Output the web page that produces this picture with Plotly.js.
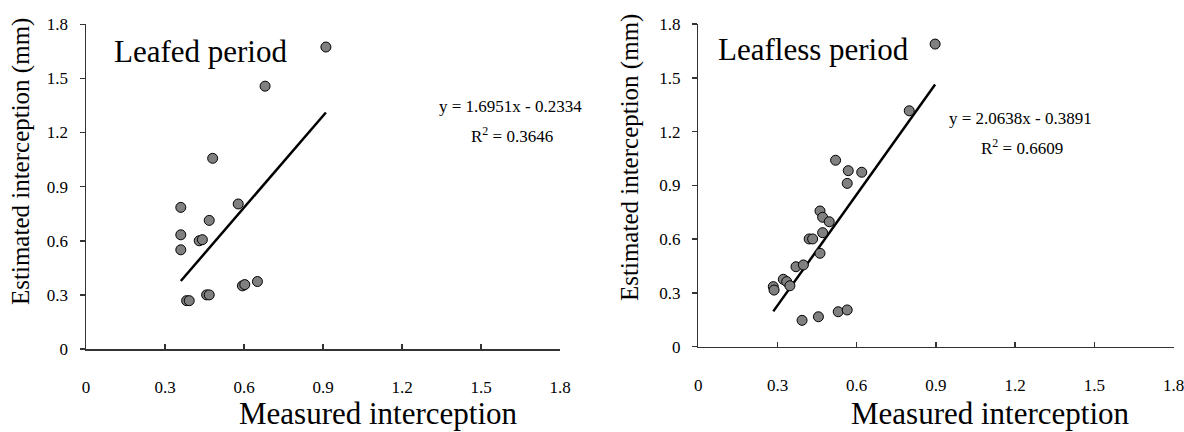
<!DOCTYPE html>
<html>
<head>
<meta charset="utf-8">
<script src="https://cdn.plot.ly/plotly-3.0.1.min.js"></script>
<style>html,body{margin:0;padding:0;background:#fff;}#chart{width:1184px;height:432px;}</style>
</head>
<body>
<div id="chart"></div>
<script>
// Leafed period (measured vs estimated interception, mm)
var leafedX = [0.360, 0.578, 0.468, 0.360, 0.430, 0.442, 0.360, 0.594, 0.603, 0.651, 0.458, 0.468, 0.382, 0.392, 0.680, 0.481, 0.911];
var leafedY = [0.785, 0.804, 0.713, 0.633, 0.600, 0.606, 0.550, 0.350, 0.357, 0.374, 0.300, 0.300, 0.268, 0.268, 1.457, 1.057, 1.674];
var leafedSlope = 1.6951, leafedIntercept = -0.2334, leafedR2 = 0.3646;

// Leafless period
var leaflessX = [0.564, 0.461, 0.471, 0.496, 0.471, 0.420, 0.433, 0.461, 0.370, 0.398, 0.322, 0.335, 0.347, 0.284, 0.287, 0.393, 0.455, 0.530, 0.564, 0.520, 0.568, 0.619, 0.897, 0.799];
var leaflessY = [0.911, 0.757, 0.722, 0.697, 0.636, 0.601, 0.601, 0.521, 0.446, 0.456, 0.376, 0.363, 0.340, 0.335, 0.316, 0.147, 0.167, 0.195, 0.205, 1.040, 0.982, 0.973, 1.688, 1.316];
var leaflessSlope = 2.0638, leaflessIntercept = -0.3891, leaflessR2 = 0.6609;

var panelTitles = ["Leafed period", "Leafless period"];
var xTitle = "Measured interception";
var yTitle = "Estimated interception (mm)";

function fitLine(xs, m, b) {
  var lo = Math.min.apply(null, xs), hi = Math.max.apply(null, xs);
  return {x: [lo, hi], y: [m * lo + b, m * hi + b]};
}
function eqText(m, b) {
  return "y = " + m.toFixed(4) + "x - " + Math.abs(b).toFixed(4);
}

var serif = "Liberation Serif";
var marker = {color: "#808080", size: 10, line: {color: "#000", width: 1}};
var l1 = fitLine(leafedX, leafedSlope, leafedIntercept);
var l2 = fitLine(leaflessX, leaflessSlope, leaflessIntercept);

var traces = [
  {x: l1.x, y: l1.y, mode: "lines", line: {color: "#000", width: 2.5}, xaxis: "x", yaxis: "y", hoverinfo: "skip"},
  {x: leafedX, y: leafedY, mode: "markers", marker: marker, xaxis: "x", yaxis: "y"},
  {x: l2.x, y: l2.y, mode: "lines", line: {color: "#000", width: 2.5}, xaxis: "x2", yaxis: "y2", hoverinfo: "skip"},
  {x: leaflessX, y: leaflessY, mode: "markers", marker: marker, xaxis: "x2", yaxis: "y2"}
];

function xa(dom, anchor) {
  return {domain: dom, anchor: anchor, range: [0, 1.8], tick0: 0, dtick: 0.3, showgrid: false, zeroline: false,
    showline: true, linecolor: "#333", linewidth: 1.5, ticks: "inside", ticklen: 5, tickcolor: "#333", tickwidth: 1.5,
    ticklabelstandoff: 22, ticklabeloverflow: "allow", tickfont: {family: serif, size: 17, color: "#000"}};
}
function ya(dom, anchor) {
  return {domain: dom, anchor: anchor, range: [0, 1.8], tick0: 0, dtick: 0.3, showgrid: false, zeroline: false,
    showline: true, linecolor: "#333", linewidth: 1.5, ticks: "outside", ticklen: 5, tickcolor: "#333", tickwidth: 1.5,
    ticklabelstandoff: 8, ticklabeloverflow: "allow", tickfont: {family: serif, size: 17, color: "#000"}};
}
function px(x) { return x / 1184; }
function py(y) { return 1 - y / 432; }
function ann(text, x, y, size, xanchor, angle) {
  return {text: text, xref: "paper", yref: "paper", x: px(x), y: py(y), xanchor: xanchor || "center", yanchor: "middle",
    showarrow: false, textangle: angle || 0, font: {family: serif, size: size, color: "#000"}};
}

var layout = {
  width: 1184, height: 432, margin: {l: 0, r: 0, t: 0, b: 0},
  paper_bgcolor: "#fff", plot_bgcolor: "#fff", showlegend: false,
  font: {family: serif, color: "#000"},
  xaxis: xa([px(86), px(560)], "y"),
  yaxis: ya([py(349), py(24.3)], "x"),
  xaxis2: xa([px(698.3), px(1173.5)], "y2"),
  yaxis2: ya([py(346.7), py(24)], "x2"),
  annotations: [
    ann(panelTitles[0], 112, 52, 31, "left"),
    ann(panelTitles[1], 716, 50, 31, "left"),
    ann(eqText(leafedSlope, leafedIntercept), 510, 107, 17),
    ann("R<sup>2</sup> = " + leafedR2.toFixed(4), 512, 135, 17),
    ann(eqText(leaflessSlope, leaflessIntercept), 1020, 118, 17),
    ann("R<sup>2</sup> = " + leaflessR2.toFixed(4), 1022, 147, 17),
    ann(xTitle, 378, 413, 31),
    ann(xTitle, 990, 413, 31),
    ann(yTitle, 21, 162, 25, "center", -90),
    ann(yTitle, 630, 158, 25, "center", -90)
  ]
};

Plotly.newPlot("chart", traces, layout, {displayModeBar: false, staticPlot: true});
</script>
</body>
</html>
